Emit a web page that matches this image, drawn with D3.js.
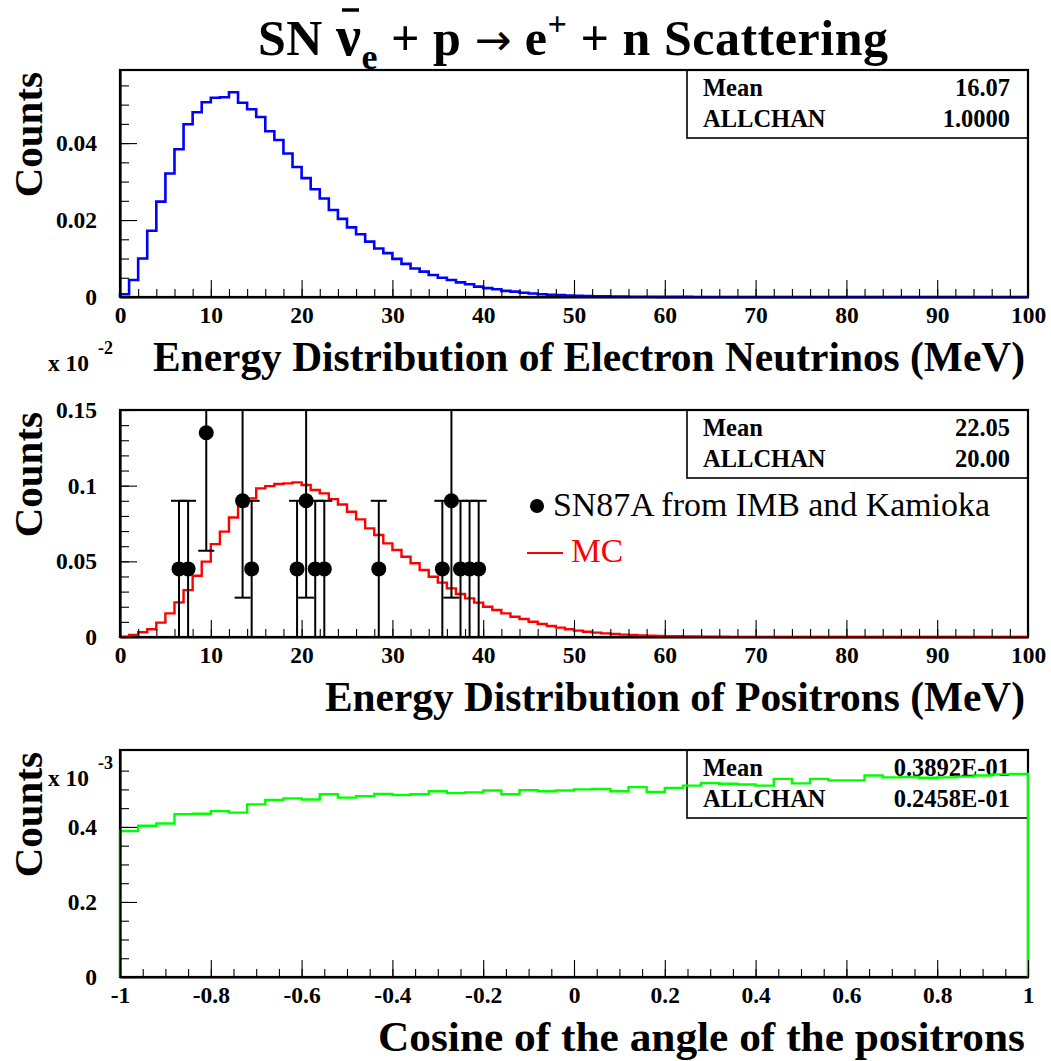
<!DOCTYPE html>
<html><head><meta charset="utf-8">
<script src="https://cdn.jsdelivr.net/npm/d3@7"></script>
<style>body{margin:0;background:#fff}</style>
</head><body>
<svg id="c" width="1051" height="1061" xmlns="http://www.w3.org/2000/svg"></svg>
<script>
// ---------- DATA ----------
// Panel 1: energy of electron antineutrinos, 1 MeV bins 0..100
const nuBinEdges = d3.range(0, 101, 1);
const nuCounts = [0.0007,0.0044,0.0100,0.0172,0.0248,0.0321,0.0384,0.0449,0.0480,0.0506,
0.0518,0.0519,0.0532,0.0505,0.0488,0.0468,0.0431,0.0408,0.0373,0.0338,
0.0309,0.0280,0.0256,0.0226,0.0203,0.0181,0.0163,0.0144,0.0126,0.0114,
0.0099,0.0086,0.0074,0.0066,0.0057,0.0050,0.0044,0.0038,0.0033,0.0027,
0.0023,0.0020,0.0016,0.0014,0.0011,0.0009,0.0007,0.0006,0.0005,0.0004,
0.0003,0.00025,0.0002,0.00015,0.00012,0.0001,0.00008,0.00006,0.00005,0.00004,
0.00003,0.00002,0.00002,0.00001,0.00001,0.00001,0,0,0,0,
0,0,0,0,0,0,0,0,0,0,0,0,0,0,0,0,0,0,0,0,0,0,0,0,0,0,0,0,0,0];
// Panel 2: positron energy MC, 1 MeV bins 0..100
const posBinEdges = d3.range(0, 101, 1);
const posCounts = [0.0002,0.0013,0.0031,0.0051,0.0095,0.0156,0.0229,0.0310,0.0405,0.0498,
0.0614,0.0696,0.0790,0.0865,0.0916,0.0982,0.0997,0.1011,0.1015,0.1022,
0.1004,0.0971,0.0949,0.0911,0.0876,0.0828,0.0777,0.0718,0.0674,0.0619,
0.0575,0.0530,0.0487,0.0443,0.0398,0.0359,0.0321,0.0284,0.0255,0.0227,
0.0200,0.0178,0.0156,0.0134,0.0119,0.0101,0.0086,0.0073,0.0062,0.0051,
0.0042,0.0035,0.0029,0.0024,0.0020,0.0016,0.0013,0.0011,0.0009,0.0007,
0.0006,0.0005,0.0004,0.0003,0.00025,0.0002,0.00015,0.0001,0.0001,0.00008,
0.00006,0.00005,0.00004,0.00003,0.00002,0.00002,0.00001,0.00001,0,0,
0,0,0,0,0,0,0,0,0,0,0,0,0,0,0,0,0,0,0,0];
// SN87A events (IMB + Kamioka)
const snEnergy = [6.5,7.5,9.5,13.5,14.5,19.5,20.5,21.5,22.5,28.5,35.5,36.5,37.5,38.5,39.5];
const snCounts = [0.045,0.045,0.135,0.09,0.045,0.045,0.09,0.045,0.045,0.045,0.045,0.09,0.045,0.045,0.045];
const snErrors = [0.045,0.045,0.078,0.064,0.045,0.045,0.064,0.045,0.045,0.045,0.045,0.064,0.045,0.045,0.045];
// Panel 3: cosine of positron angle, 50 bins -1..1 (x 10^-3)
const cosBinEdges = d3.range(0, 51).map(i => -1 + i * 0.04);
const cosCounts = [0.389,0.403,0.409,0.434,0.435,0.442,0.438,0.460,0.472,0.476,
0.473,0.487,0.478,0.482,0.488,0.485,0.487,0.495,0.490,0.492,
0.497,0.487,0.498,0.495,0.497,0.500,0.501,0.495,0.506,0.493,
0.504,0.510,0.517,0.515,0.513,0.510,0.528,0.516,0.528,0.524,
0.524,0.537,0.532,0.533,0.531,0.532,0.534,0.537,0.540,0.541];

// Tick values / labels
const eMajorTicks = d3.range(0, 101, 10);
const eMinorTicks = d3.range(0, 101, 2);
const eTickLabels = ["0","10","20","30","40","50","60","70","80","90","100"];
const y1Major = [0, 0.02, 0.04];
const y1Minor = d3.range(0, 0.0576, 0.005);
const y1Labels = ["0","0.02","0.04"];
const y2Major = [0, 0.05, 0.1, 0.15];
const y2Minor = d3.range(0, 0.1501, 0.01);
const y2Labels = ["0","0.05","0.1","0.15"];
const cMajorTicks = [-1,-0.8,-0.6,-0.4,-0.2,0,0.2,0.4,0.6,0.8,1];
const cMinorTicks = d3.range(0, 41).map(i => -1 + i * 0.05);
const cTickLabels = ["-1","-0.8","-0.6","-0.4","-0.2","0","0.2","0.4","0.6","0.8","1"];
const y3Major = [0, 0.2, 0.4];
const y3Minor = d3.range(0, 12).map(i => i * 0.05);
const y3Labels = ["0","0.2","0.4"];

const stats1 = [["Mean","16.07"],["ALLCHAN","1.0000"]];
const stats2 = [["Mean","22.05"],["ALLCHAN","20.00"]];
const stats3 = [["Mean","0.3892E-01"],["ALLCHAN","0.2458E-01"]];

// ---------- DRAW ----------
const FONT = "'Liberation Serif','Times New Roman',Times,serif";
const svg = d3.select('#c');
svg.append('rect').attr('width',1051).attr('height',1061).attr('fill','#fff');

const X0 = 120, X1 = 1028;

function histPath(g, x, y, edges, counts, color, w) {
  const pts = [{e: edges[0], v: 0}];
  counts.forEach((v, i) => pts.push({e: edges[i], v}));
  pts.push({e: edges[edges.length-1], v: counts[counts.length-1]});
  pts.push({e: edges[edges.length-1], v: 0});
  const line = d3.line().x(d => x(d.e)).y(d => y(d.v)).curve(d3.curveStepAfter);
  g.append('path').attr('d', line(pts)).attr('fill','none')
   .attr('stroke', color).attr('stroke-width', w).attr('stroke-linejoin','miter');
}

function axes(g, x, y, xMaj, xMin, xLab, yMaj, yMin, yLab) {
  const yb = y.range()[0];
  const style = (keepDomain) => sel => {
    if (keepDomain) sel.select('.domain').attr('stroke','#000').attr('stroke-width',2.2);
    else sel.select('.domain').remove();
    sel.selectAll('line').attr('stroke','#000').attr('stroke-width',1.1);
    sel.selectAll('text').attr('font-family',FONT).attr('font-weight','bold')
       .attr('font-size',23.5).attr('fill','#000');
  };
  g.append('g').attr('transform',`translate(0,${yb})`)
   .call(d3.axisBottom(x).tickValues(xMin).tickSizeInner(-8).tickSizeOuter(0).tickFormat(''))
   .call(style(true));
  g.append('g').attr('transform',`translate(0,${yb})`)
   .call(d3.axisBottom(x).tickValues(xMaj).tickSizeInner(-17).tickSizeOuter(0)
         .tickPadding(9.5).tickFormat((d,i) => xLab[i]))
   .call(style(false));
  g.append('g').attr('transform',`translate(${X0},0)`)
   .call(d3.axisLeft(y).tickValues(yMin).tickSizeInner(-9).tickSizeOuter(0).tickFormat(''))
   .call(style(true));
  g.append('g').attr('transform',`translate(${X0},0)`)
   .call(d3.axisLeft(y).tickValues(yMaj).tickSizeInner(-17).tickSizeOuter(0)
         .tickPadding(23).tickFormat((d,i) => yLab[i]))
   .call(style(false));
}

function frame(g, y) {
  g.append('rect').attr('x', X0).attr('y', y.range()[1])
   .attr('width', X1 - X0).attr('height', y.range()[0] - y.range()[1])
   .attr('fill','none').attr('stroke','#000').attr('stroke-width',2.2);
}

function statBox(g, top, rows) {
  g.append('rect').attr('x',687).attr('y',top).attr('width',X1-687).attr('height',68)
   .attr('fill','none').attr('stroke','#000').attr('stroke-width',1.6);
  rows.forEach((r, i) => {
    const by = top + 26 + i * 30.7;
    g.append('text').attr('x',703).attr('y',by).text(r[0])
     .attr('font-family',FONT).attr('font-weight','bold').attr('font-size',24.5);
    g.append('text').attr('x',1010).attr('y',by).attr('text-anchor','end').text(r[1])
     .attr('font-family',FONT).attr('font-weight','bold').attr('font-size',24.5);
  });
}

function titles(g, y, xTitle, xStart) {
  const top = y.range()[1], bot = y.range()[0];
  g.append('text').attr('transform',`translate(42,${top+2}) rotate(-90)`)
   .attr('text-anchor','end').text('Counts')
   .attr('font-family',FONT).attr('font-weight','bold').attr('font-size',41);
  g.append('text').attr('x',xStart).attr('y',bot+74).text(xTitle)
   .attr('textLength', 1025 - xStart).attr('lengthAdjust','spacingAndGlyphs')
   .attr('font-family',FONT).attr('font-weight','bold').attr('font-size',41.5);
}

function exponent(g, by, txt) {
  g.append('text').attr('x',48).attr('y',by).text('x 10')
   .attr('textLength',41).attr('lengthAdjust','spacingAndGlyphs')
   .attr('font-family',FONT).attr('font-weight','bold').attr('font-size',23);
  g.append('text').attr('x',98).attr('y',by-17).text(txt)
   .attr('font-family',FONT).attr('font-weight','bold').attr('font-size',18);
}

// Title
const title = svg.append('text').attr('x',258).attr('y',55)
  .attr('font-family',FONT).attr('font-weight','bold').attr('font-size',50);
title.append('tspan').text('SN ');
title.append('tspan').attr('font-size',56).text('\u03BD');
title.append('tspan').attr('font-size',36).attr('dy',14).text('e');
title.append('tspan').attr('dy',-14).text(' + p ');
title.append('tspan').attr('font-family',"'DejaVu Sans',sans-serif").attr('font-weight','normal')
     .attr('font-size',44).text('\u2192');
title.append('tspan').text(' e');
title.append('tspan').attr('font-size',34).attr('dy',-20).text('+');
title.append('tspan').attr('dy',20).text(' + n Scattering');
title.attr('textLength', 630).attr('lengthAdjust','spacing');
// overbar on nu
{
  const t = title.node();
  const s = t.getStartPositionOfChar(3), e = t.getEndPositionOfChar(3);
  svg.append('line').attr('x1', s.x + 6).attr('x2', e.x - 2).attr('y1', 10).attr('y2', 10)
     .attr('stroke','#000').attr('stroke-width',3.5);
}

// Panel 1
{
  const g = svg.append('g');
  const x = d3.scaleLinear().domain([0,100]).range([X0,X1]);
  const y = d3.scaleLinear().domain([0,0.059]).range([297,70]);
  frame(g, y);
  statBox(g, 70, stats1);
  histPath(g, x, y, nuBinEdges, nuCounts, '#0000ff', 2.6);
  axes(g, x, y, eMajorTicks, eMinorTicks, eTickLabels, y1Major, y1Minor, y1Labels);
  titles(g, y, 'Energy Distribution of Electron Neutrinos (MeV)', 153);
}

// Panel 2
{
  const g = svg.append('g');
  const x = d3.scaleLinear().domain([0,100]).range([X0,X1]);
  const y = d3.scaleLinear().domain([0,0.15]).range([637,410]);
  frame(g, y);
  statBox(g, 410, stats2);
  histPath(g, x, y, posBinEdges, posCounts, '#ff0000', 2.4);
  axes(g, x, y, eMajorTicks, eMinorTicks, eTickLabels, y2Major, y2Minor, y2Labels);
  // error bars
  const ymax = y.domain()[1];
  snEnergy.forEach((e, i) => {
    const c = snCounts[i], er = snErrors[i];
    const hi = c + er, lo = Math.max(0, c - er);
    g.append('line').attr('x1',x(e)).attr('x2',x(e)).attr('y1',y(Math.min(hi,ymax))).attr('y2',y(lo))
     .attr('stroke','#000').attr('stroke-width',2);
    if (hi <= ymax) g.append('line').attr('x1',x(e)-8).attr('x2',x(e)+8).attr('y1',y(hi)).attr('y2',y(hi))
     .attr('stroke','#000').attr('stroke-width',2);
    g.append('line').attr('x1',x(e)-8).attr('x2',x(e)+8).attr('y1',y(lo)).attr('y2',y(lo))
     .attr('stroke','#000').attr('stroke-width',2);
  });
  g.selectAll('circle.sn').data(snEnergy).enter().append('circle')
   .attr('cx', d => x(d)).attr('cy', (d,i) => y(snCounts[i])).attr('r',7.5).attr('fill','#000');
  titles(g, y, 'Energy Distribution of Positrons (MeV)', 325);
  exponent(g, 371, '-2');
  // legend
  g.append('circle').attr('cx',537).attr('cy',506).attr('r',7).attr('fill','#000');
  g.append('text').attr('x',553).attr('y',516).text('SN87A from IMB and Kamioka')
   .attr('textLength',437).attr('lengthAdjust','spacingAndGlyphs')
   .attr('font-family',FONT).attr('font-size',33.5).attr('fill','#000');
  g.append('line').attr('x1',527).attr('x2',563).attr('y1',553).attr('y2',553)
   .attr('stroke','#ff0000').attr('stroke-width',2);
  g.append('text').attr('x',571).attr('y',562).text('MC')
   .attr('font-family',FONT).attr('font-size',33.5).attr('fill','#ff0000');
}

// Panel 3
{
  const g = svg.append('g');
  const x = d3.scaleLinear().domain([-1,1]).range([X0,X1]);
  const y = d3.scaleLinear().domain([0,0.605]).range([977,750]);
  frame(g, y);
  statBox(g, 750, stats3);
  histPath(g, x, y, cosBinEdges, cosCounts, '#00ff00', 2.4);
  axes(g, x, y, cMajorTicks, cMinorTicks, cTickLabels, y3Major, y3Minor, y3Labels);
  titles(g, y, 'Cosine of the angle of the positrons', 378);
  exponent(g, 786, '-3');
}
</script>
</body></html>
